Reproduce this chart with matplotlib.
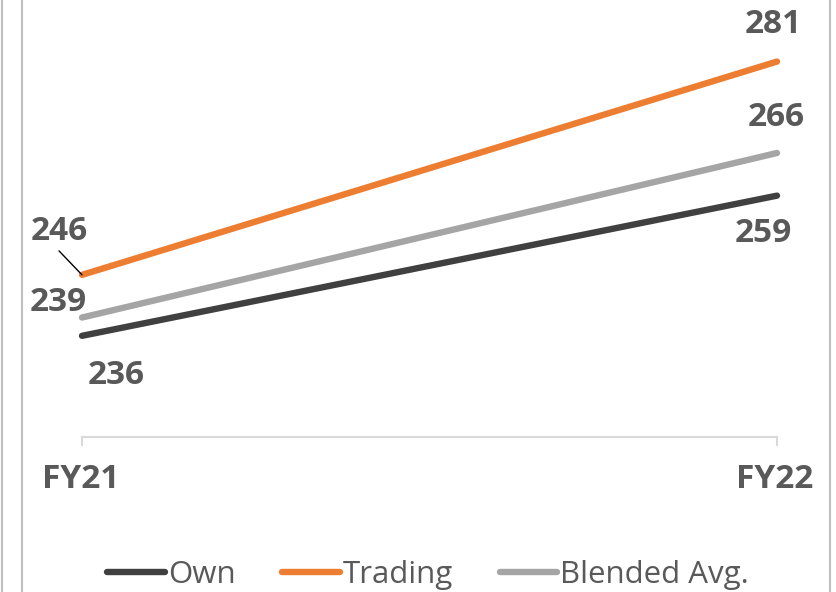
import matplotlib
matplotlib.use("Agg")
import matplotlib.pyplot as plt
from matplotlib.lines import Line2D

categories = ["FY21", "FY22"]
series_names = ["Own", "Trading", "Blended Avg."]
own = [236, 259]
trading = [246, 281]
blended = [239, 266]
colors = ["#404040", "#ED7D31", "#A5A5A5"]

W, H = 836, 592
fig = plt.figure(figsize=(W / 100, H / 100), dpi=100)
fig.patch.set_facecolor("white")

def fx(px):
    return px / W

def fy(py):
    return 1 - py / H

ax = fig.add_axes([fx(82), fy(437), fx(777) - fx(82), fy(0) - fy(437)])
ax.set_xlim(0, 1)
ax.set_ylim(219.4, 291.1)
ax.axis("off")

x = list(range(len(categories)))
for vals, c, name in zip([own, trading, blended], colors, series_names):
    ax.plot(x, vals, color=c, lw=4.6, solid_capstyle="round", label=name, clip_on=False, zorder=3)

# axis line and ticks
fig.add_artist(Line2D([fx(82), fx(777)], [fy(437), fy(437)], color="#D9D9D9", lw=1.5))
for px in (82, 777):
    fig.add_artist(Line2D([fx(px), fx(px)], [fy(437), fy(445)], color="#D9D9D9", lw=1.5))

lab_kw = dict(color="#595959", fontsize=24, fontweight="bold", family=["Open Sans", "DejaVu Sans"],
              ha="center", va="center")
# data labels
ax.annotate(str(own[0]), (x[0], own[0]), xytext=(34, -40), textcoords="offset pixels", **lab_kw)
ax.annotate(str(trading[0]), (x[0], trading[0]), xytext=(-23, 43), textcoords="offset pixels", **lab_kw)
ax.annotate("", (x[0], trading[0]), xytext=(-23, 24), textcoords="offset pixels",
            arrowprops=dict(arrowstyle="-", color="black", lw=1, shrinkA=0, shrinkB=0))
ax.annotate(str(blended[0]), (x[0], blended[0]), xytext=(-24, 15), textcoords="offset pixels", **lab_kw)
ax.annotate(str(own[1]), (x[1], own[1]), xytext=(-14, -38), textcoords="offset pixels", **lab_kw)
ax.annotate(str(trading[1]), (x[1], trading[1]), xytext=(-4, 37), textcoords="offset pixels", **lab_kw)
ax.annotate(str(blended[1]), (x[1], blended[1]), xytext=(-1, 35), textcoords="offset pixels", **lab_kw)

# category labels
for xi, cat, dx in zip(x, categories, (-1, -2)):
    ax.annotate(cat, (xi, 219.4), xytext=(dx, -42), textcoords="offset pixels", **lab_kw)

# borders
for px in (1.5, 21.5, 829.5):
    fig.add_artist(Line2D([fx(px), fx(px)], [0, 1], color="#BFBFBF", lw=1.5))

handles = [Line2D([0], [0], color=c, lw=4.6, solid_capstyle="round") for c in colors]
leg = fig.legend(handles, series_names, loc="center", bbox_to_anchor=(fx(428), fy(575)),
                 ncol=3, frameon=False, handlelength=1.85, handletextpad=0.08, columnspacing=1.5,
                 borderpad=0, prop=dict(family=["Open Sans", "DejaVu Sans"], size=22.5))
for t in leg.get_texts():
    t.set_color("#595959")

fig.savefig("out.png", dpi=100, facecolor="white")
